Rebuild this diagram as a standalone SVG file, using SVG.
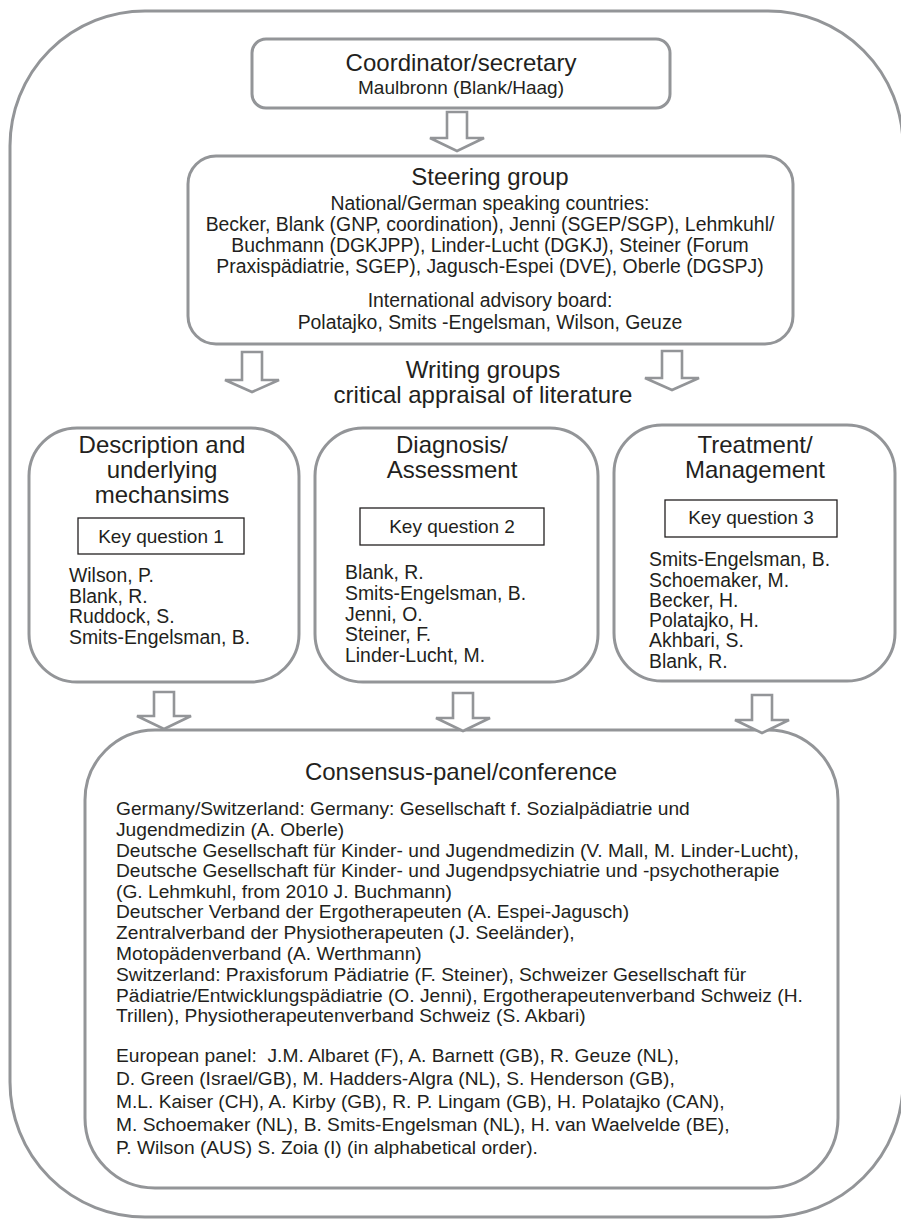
<svg xmlns="http://www.w3.org/2000/svg" width="901" height="1219" viewBox="0 0 901 1219">
<style>
.box{fill:#fff;stroke:#939598;stroke-width:3}
.kq{fill:#fff;stroke:#231f20;stroke-width:1.3}
.arr{fill:#fff;stroke:#939598;stroke-width:2.6;stroke-linejoin:miter}
text{font-family:"Liberation Sans",Arial,Helvetica,sans-serif;fill:#231f20}
.t{font-size:24px;text-anchor:middle}
.s{font-size:19.4px}
.c{text-anchor:middle}
</style>
<rect id="outer" class="box" x="10" y="11" width="893" height="1206" rx="135" ry="135"/>
<g id="coordinator">
<rect class="box" x="252" y="39" width="418" height="69" rx="14"/>
<text class="t" x="461" y="71">Coordinator/secretary</text>
<text class="s c" x="461" y="94" style="font-size:19px">Maulbronn (Blank/Haag)</text>
</g>
<g id="steering">
<rect class="box" x="188" y="156" width="605" height="188" rx="28"/>
<text class="t" x="490" y="185">Steering group</text>
<text class="s c" x="490" y="210">National/German speaking countries:</text>
<text class="s c" x="490" y="231">Becker, Blank (GNP, coordination), Jenni (SGEP/SGP), Lehmkuhl/</text>
<text class="s c" x="490" y="252">Buchmann (DGKJPP), Linder-Lucht (DGKJ), Steiner (Forum</text>
<text class="s c" x="490" y="273">Praxispädiatrie, SGEP), Jagusch-Espei (DVE), Oberle (DGSPJ)</text>
<text class="s c" x="490" y="307">International advisory board:</text>
<text class="s c" x="490" y="329">Polatajko, Smits -Engelsman, Wilson, Geuze</text>
</g>
<g id="writing-groups">
<text class="t" x="483" y="378">Writing groups</text>
<text class="t" x="483" y="403">critical appraisal of literature</text>
</g>
<g id="description">
<rect class="box" x="29" y="428" width="270" height="254" rx="48"/>
<text class="t" x="162" y="453">Description and</text>
<text class="t" x="162" y="478">underlying</text>
<text class="t" x="162" y="503">mechansims</text>
<rect class="kq" x="78" y="518" width="166" height="36"/>
<text class="s c" x="161" y="543" style="font-size:19px">Key question 1</text>
<text class="s" x="69" y="582">Wilson, P.</text>
<text class="s" x="69" y="603">Blank, R.</text>
<text class="s" x="69" y="623">Ruddock, S.</text>
<text class="s" x="69" y="644">Smits-Engelsman, B.</text>
</g>
<g id="diagnosis">
<rect class="box" x="315" y="428" width="283" height="254" rx="48"/>
<text class="t" x="452" y="453">Diagnosis/</text>
<text class="t" x="452" y="478">Assessment</text>
<rect class="kq" x="360" y="508" width="184" height="37"/>
<text class="s c" x="452" y="533" style="font-size:19px">Key question 2</text>
<text class="s" x="345" y="579">Blank, R.</text>
<text class="s" x="345" y="600">Smits-Engelsman, B.</text>
<text class="s" x="345" y="621">Jenni, O.</text>
<text class="s" x="345" y="641">Steiner, F.</text>
<text class="s" x="345" y="662">Linder-Lucht, M.</text>
</g>
<g id="treatment">
<rect class="box" x="614" y="425" width="281" height="256" rx="48"/>
<text class="t" x="755" y="453">Treatment/</text>
<text class="t" x="755" y="478">Management</text>
<rect class="kq" x="665" y="500" width="172" height="37"/>
<text class="s c" x="751" y="524" style="font-size:19px">Key question 3</text>
<text class="s" x="649" y="566">Smits-Engelsman, B.</text>
<text class="s" x="649" y="587">Schoemaker, M.</text>
<text class="s" x="649" y="607">Becker, H.</text>
<text class="s" x="649" y="627">Polatajko, H.</text>
<text class="s" x="649" y="647">Akhbari, S.</text>
<text class="s" x="649" y="668">Blank, R.</text>
</g>
<g id="consensus">
<rect class="box" x="85" y="730" width="753" height="458" rx="70"/>
<text class="t" x="461" y="780">Consensus-panel/conference</text>
<g class="s" style="font-size:19.2px">
<text x="116" y="815">Germany/Switzerland: Germany: Gesellschaft f. Sozialpädiatrie und</text>
<text x="116" y="836">Jugendmedizin (A. Oberle)</text>
<text x="116" y="857">Deutsche Gesellschaft für Kinder- und Jugendmedizin (V. Mall, M. Linder-Lucht),</text>
<text x="116" y="877">Deutsche Gesellschaft für Kinder- und Jugendpsychiatrie und -psychotherapie</text>
<text x="116" y="898">(G. Lehmkuhl, from 2010 J. Buchmann)</text>
<text x="116" y="918">Deutscher Verband der Ergotherapeuten (A. Espei-Jagusch)</text>
<text x="116" y="939">Zentralverband der Physiotherapeuten (J. Seeländer),</text>
<text x="116" y="960">Motopädenverband (A. Werthmann)</text>
<text x="116" y="981">Switzerland: Praxisforum Pädiatrie (F. Steiner), Schweizer Gesellschaft für</text>
<text x="116" y="1002">Pädiatrie/Entwicklungspädiatrie (O. Jenni), Ergotherapeutenverband Schweiz (H.</text>
<text x="116" y="1022">Trillen), Physiotherapeutenverband Schweiz (S. Akbari)</text>
<text x="116" y="1062" xml:space="preserve">European panel:  J.M. Albaret (F), A. Barnett (GB), R. Geuze (NL),</text>
<text x="116" y="1085">D. Green (Israel/GB), M. Hadders-Algra (NL), S. Henderson (GB),</text>
<text x="116" y="1108">M.L. Kaiser (CH), A. Kirby (GB), R. P. Lingam (GB), H. Polatajko (CAN),</text>
<text x="116" y="1131">M. Schoemaker (NL), B. Smits-Engelsman (NL), H. van Waelvelde (BE),</text>
<text x="116" y="1154">P. Wilson (AUS) S. Zoia (I) (in alphabetical order).</text>
</g>
</g>
<g id="connectors">
<path class="arr" d="M447 112H467V138H484L457 151L430 138H447Z"/>
<path class="arr" d="M242 352H262V380H279L252 392L225 380H242Z"/>
<path class="arr" d="M662 351H682V378H699L672 390L645 378H662Z"/>
<path class="arr" d="M154 692H174V716H191L164 729L137 716H154Z"/>
<path class="arr" d="M453 693H473V718H490L463 731L436 718H453Z"/>
<path class="arr" d="M752 695H772V720H789L762 733L735 720H752Z"/>
</g>
</svg>
